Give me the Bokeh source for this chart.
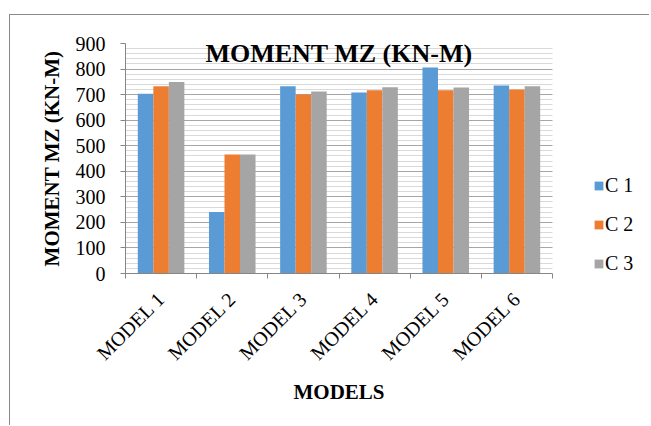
import math
from bokeh.plotting import figure
from bokeh.models import (Range1d, LinearAxis, FixedTicker, BoxAnnotation,
                          SingleIntervalTicker, Legend, LegendItem, Label, Title,
                          ColumnDataSource)
from bokeh.transform import dodge
from bokeh.embed import file_html
from bokeh.resources import INLINE

models = ["MODEL 1", "MODEL 2", "MODEL 3", "MODEL 4", "MODEL 5", "MODEL 6"]
series_names = ["C 1", "C 2", "C 3"]
c1 = [703, 241, 733, 708, 806, 736]
c2 = [733, 466, 700, 717, 717, 720]
c3 = [749, 466, 712, 729, 728, 733]
colors = ["#5B9BD5", "#ED7D31", "#A5A5A5"]
title_text = "MOMENT MZ (KN-M)"
y_title = "MOMENT MZ (KN-M)"
x_title = "MODELS"

FONT = "Liberation Serif"

n = len(models)
xpos = [i + 0.5 for i in range(n)]
src = ColumnDataSource(dict(x=xpos, c1=c1, c2=c2, c3=c3))

# canvas origin at page (10, 15) because of the css margin + border
W, H = 640, 411
LEFT, TOP, BOTTOM = 115, 28, 411 - 258
plot_px = 427.0                      # width of the category area
frame_px = W - LEFT
x_end = n * frame_px / plot_px       # extra room on the right holds the legend

p = figure(width=W, height=H, output_backend="svg", toolbar_location=None,
           x_range=Range1d(0, x_end), y_range=Range1d(0, 900),
           x_axis_location=None, y_axis_location=None,
           min_border_left=LEFT, min_border_right=0, min_border_top=TOP,
           min_border_bottom=BOTTOM)
p.outline_line_color = None
p.background_fill_color = "white"
p.border_fill_color = "white"
p.styles = {"margin-left": "9px", "margin-top": "14px",
            "border-left": "1px solid #898989", "border-top": "1px solid #898989"}

# y axis
yax = LinearAxis(ticker=SingleIntervalTicker(interval=100, num_minor_ticks=5))
yax.axis_line_color = "#868686"
yax.major_tick_line_color = "#868686"
yax.major_tick_in = 0
yax.major_tick_out = 5
yax.minor_tick_line_color = None
yax.major_label_text_font = FONT
yax.major_label_text_font_size = "20px"
yax.major_label_text_color = "black"
yax.major_label_standoff = 15
yax.axis_label = y_title
yax.axis_label_text_font = FONT
yax.axis_label_text_font_size = "21px"
yax.axis_label_text_font_style = "bold"
yax.axis_label_text_color = "black"
yax.axis_label_standoff = 9
p.add_layout(yax, "left")

p.ygrid.ticker = yax.ticker
p.ygrid.grid_line_color = "#a6a6a6"
p.ygrid.minor_grid_line_color = "#d9d9d9"
p.xgrid.grid_line_color = None

# x axis: labels at category centres, tick marks at category boundaries
cax = LinearAxis(ticker=FixedTicker(ticks=xpos, minor_ticks=list(range(n + 1))),
                 major_label_overrides={x: m for x, m in zip(xpos, models)},
                 bounds=(0, n))
cax.axis_line_color = "#868686"
cax.major_tick_line_color = None
cax.minor_tick_line_color = "#868686"
cax.minor_tick_in = 0
cax.minor_tick_out = 5
cax.major_tick_in = 0
cax.major_tick_out = 0
cax.major_label_orientation = math.pi / 4
cax.major_label_text_font = FONT
cax.major_label_text_font_size = "20px"
cax.major_label_text_color = "black"
cax.major_label_standoff = 17
p.add_layout(cax, "below")

p.add_layout(Title(text=x_title, align="left", offset=168, standoff=7,
                   text_font=FONT, text_font_size="21px", text_font_style="bold",
                   text_color="black"), "below")

bw = 0.218
renderers = []
for i, (col, c) in enumerate(zip(["c1", "c2", "c3"], colors)):
    r = p.vbar(x=dodge("x", (i - 1) * bw), top=col, width=bw,
               source=src, fill_color=c, line_color=None)
    renderers.append(r)

# blank out gridlines right of the category area
p.add_layout(BoxAnnotation(left=n, fill_color="white", fill_alpha=1, line_color=None))

legend = Legend(items=[LegendItem(label=s, renderers=[r]) for s, r in zip(series_names, renderers)],
                location=(468, -2))
legend.border_line_color = None
legend.background_fill_alpha = 0
legend.padding = 0
legend.margin = 0
legend.glyph_width = 11
legend.glyph_height = 11
legend.label_height = 20
legend.spacing = 16
legend.label_standoff = 1
legend.label_text_font = FONT
legend.label_text_font_size = "20px"
legend.label_text_color = "black"
legend.label_text_baseline = "middle"
p.add_layout(legend)

p.add_layout(Label(x=n / 2, y=862, text=title_text, text_align="center",
                   text_baseline="alphabetic", text_font=FONT, text_font_size="26px",
                   text_font_style="bold", text_color="black"))

open("out.html", "w").write(file_html(p, INLINE))
